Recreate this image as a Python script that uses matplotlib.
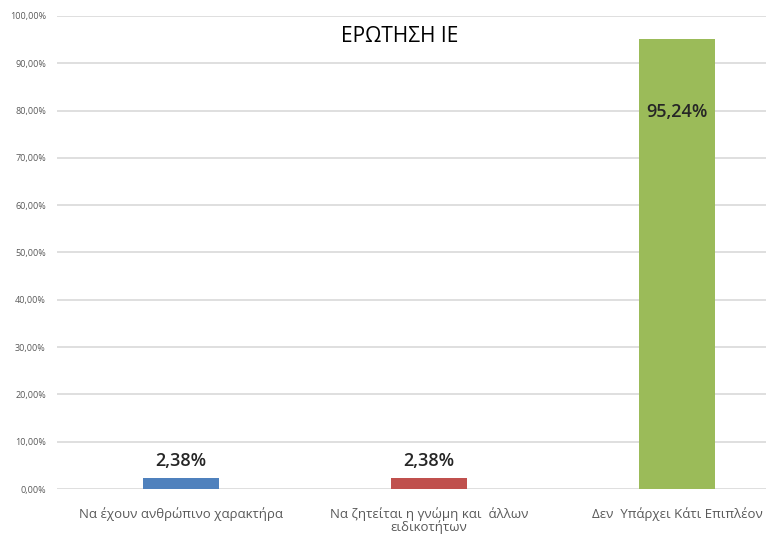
import matplotlib.pyplot as plt
import numpy as np

plt.rcParams['font.family'] = ['Open Sans', 'DejaVu Sans']

categories = ["Να έχουν ανθρώπινο χαρακτήρα",
              "Να ζητείται η γνώμη και  άλλων\nειδικοτήτων",
              "Δεν  Υπάρχει Κάτι Επιπλέον"]
values = [2.38, 2.38, 95.24]
value_labels = ["2,38%", "2,38%", "95,24%"]
colors = ["#4F81BD", "#C0504D", "#9BBB59"]
yticks = np.arange(0, 101, 10)

fig = plt.figure(figsize=(7.66, 5.35), dpi=100)
# plot area runs past the right and top edges of the canvas
ax = fig.add_axes([57 / 766, 46 / 535, 744 / 766, 473 / 535])

x = np.arange(len(categories))
ax.bar(x, values, width=0.31, color=colors, zorder=3)

ax.set_xlim(-0.5, 2.5)
ax.set_ylim(0, 100)
ax.set_yticks(yticks)
ax.set_yticklabels(["%d,00%%" % t for t in yticks], fontsize=6.5, color="#595959")
ax.set_xticks(x)
ax.set_xticklabels(categories, fontsize=9.5, color="#595959", va="top",
                   linespacing=0.95)
ax.tick_params(axis="both", length=0)
ax.tick_params(axis="y", pad=8)
ax.tick_params(axis="x", pad=13)
ax.grid(axis="y", color="#D9D9D9", linewidth=1.2, zorder=0)
for s in ax.spines.values():
    s.set_visible(False)

# value labels: above the short bars, inside the tall one
for i, (v, lab) in enumerate(zip(values, value_labels)):
    if v > 50:
        ax.annotate(lab, (i, v), xytext=(0, -53), textcoords="offset points",
                    ha="center", va="center", fontsize=13, fontweight="semibold",
                    color="#262626")
    else:
        ax.annotate(lab, (i, v), xytext=(0, 12), textcoords="offset points",
                    ha="center", va="center", fontsize=13, fontweight="semibold",
                    color="#262626")

fig.text(400 / 766, 1 - 37 / 535, "ΕΡΩΤΗΣΗ ΙΕ", ha="center", va="center",
         fontsize=15, color="#000000")

plt.savefig("out.png", dpi=100)
